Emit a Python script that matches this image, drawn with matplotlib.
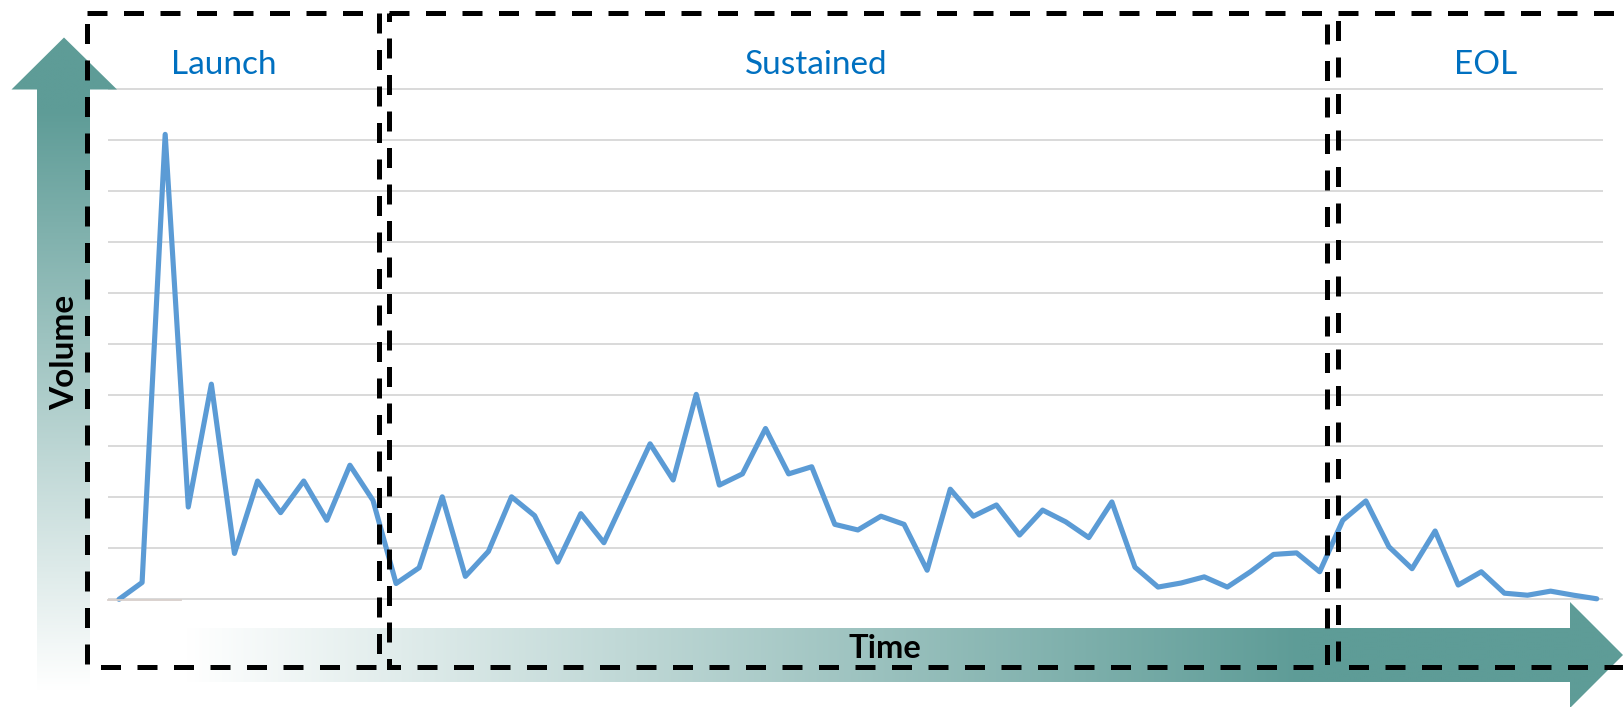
import matplotlib
matplotlib.use("Agg")
import matplotlib.pyplot as plt
import numpy as np
from matplotlib.colors import to_rgb
from matplotlib.patches import Polygon, Rectangle

plt.rcParams["font.family"] = ["Lato", "DejaVu Sans"]

# volume per period, read in units of the gridlines (10 per line)
volume = [0, 3.3, 91.2, 18.1, 42.2, 9.0, 23.2, 17.0, 23.2, 15.5, 26.3, 19.4,
          3.1, 6.2, 20.1, 4.5, 9.4, 20.1, 16.4, 7.3, 16.8, 11.1, 20.8, 30.5,
          23.4, 40.2, 22.4, 24.6, 33.5, 24.6, 26.0, 14.7, 13.6, 16.3, 14.7, 5.7,
          21.6, 16.3, 18.5, 12.6, 17.5, 15.2, 12.1, 19.1, 6.3, 2.4, 3.2, 4.4,
          2.4, 5.4, 8.8, 9.1, 5.4, 15.5, 19.3, 10.3, 6.0, 13.4, 2.8, 5.4,
          1.2, 0.8, 1.6, 0.8, 0.1]
periods = np.arange(len(volume))
grid_levels = np.arange(0, 101, 10)
phase_names = ["Launch", "Sustained", "EOL"]

W, H = 1623, 707
TEAL = "#5e9c97"
LINE = "#5b9bd5"
LABEL = "#0070c0"

# layout in figure pixels
plot_l, plot_r, plot_t, plot_b = 108, 1603, 89.5, 599.3
x_step = 23.09
first_x = 119
phase_spans = [(87, 378.5), (389, 1327), (1338, 1700)]
phase_label_x = [223.5, 816.7, 1486]
box_top, box_bot = 12.5, 667


def gradient(pos, solid_at, white_at):
    t = np.clip((pos - solid_at) / (white_at - solid_at), 0, 1)[:, None]
    c0 = np.array(to_rgb(TEAL))
    return c0 + t * (1 - c0)


fig = plt.figure(figsize=(W / 100, H / 100), dpi=100)

# data axes, padded a little so edge gridlines are not clipped
pad = 2
ppu = (plot_b - plot_t) / 100
ax_b = plot_b + pad * ppu
ax_t = plot_t - pad * ppu
ax = fig.add_axes([plot_l / W, (H - ax_b) / H, (plot_r - plot_l) / W, (ax_b - ax_t) / H])
ax.plot(periods, volume, color=LINE, lw=3.7, solid_joinstyle="round",
        solid_capstyle="round", clip_on=False, zorder=3)
ax.set_xlim((plot_l - first_x) / x_step, (plot_r - first_x) / x_step)
ax.set_ylim(-pad, 100 + pad)
ax.set_yticks(grid_levels)
ax.set_xticks([])
ax.grid(axis="y", color="#d9d9d9", lw=1.4)
ax.set_axisbelow(True)
ax.tick_params(left=False, labelleft=False)
for s in ax.spines.values():
    s.set_visible(False)
ax.patch.set_alpha(0)

# overlay in pixel coordinates
ov = fig.add_axes([0, 0, 1, 1], zorder=3)
ov.patch.set_alpha(0)

# short axis stub at the baseline
ov.plot([plot_l, 181], [plot_b + 0.3, plot_b + 0.3], color="#d8cfcb", lw=1.3)

# vertical (Volume) arrow
v_verts = [(37, 700), (37, 89.5), (11.5, 89.5), (64, 37.5), (117, 89.5), (90, 89.5), (90, 700)]
v_poly = Polygon(v_verts, closed=True, facecolor="none", edgecolor="none")
ov.add_patch(v_poly)
ys = np.linspace(37, 700, 500)
img = gradient(ys, 110, 690)[:, None, :]
im = ov.imshow(img, extent=(11, 118, 700, 37), origin="upper", aspect="auto",
               interpolation="bilinear", zorder=1)
im.set_clip_path(v_poly)

# horizontal (Time) arrow
h_verts = [(187, 628), (1570, 628), (1570, 602), (1623, 655), (1570, 708), (1570, 682), (187, 682)]
h_poly = Polygon(h_verts, closed=True, facecolor="none", edgecolor="none")
ov.add_patch(h_poly)
xs = np.linspace(180, 1623, 800)
img = gradient(xs, 1300, 187)[None, :, :]
im = ov.imshow(img, extent=(180, 1623, 708, 600), origin="upper", aspect="auto",
               interpolation="bilinear", zorder=1)
im.set_clip_path(h_poly)

ov.text(74, 352, "Volume", rotation=90, rotation_mode="anchor", ha="center",
        va="baseline", fontsize=24, fontweight="bold", color="black", zorder=4)
ov.text(885, 658, "Time", ha="center", va="baseline", fontsize=23.5,
        fontweight="bold", color="black", zorder=4)

# phase boxes and labels
for name, (x0, x1), lx in zip(phase_names, phase_spans, phase_label_x):
    ov.add_patch(Rectangle((x0, box_top), x1 - x0, box_bot - box_top, fill=False,
                           edgecolor="black", lw=3.6, linestyle=(0, (4, 3.3)),
                           joinstyle="miter", capstyle="butt", zorder=5))
    ov.text(lx, 74, name, ha="center", va="baseline", fontsize=24, color=LABEL, zorder=4)

ov.set_xlim(0, W)
ov.set_ylim(H, 0)
ov.axis("off")

fig.savefig("out.png", dpi=100, facecolor="white")
plt.close(fig)
